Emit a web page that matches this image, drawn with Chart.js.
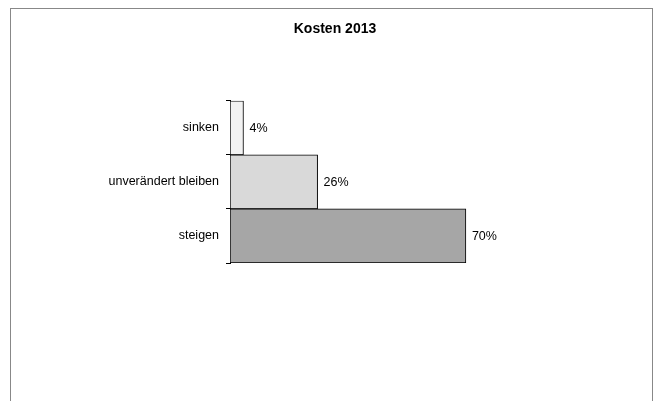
<!DOCTYPE html>
<html>
<head>
<meta charset="utf-8">
<script src="https://cdn.jsdelivr.net/npm/chart.js@4"></script>
<style>
    body { margin: 0; background: #fff; }
    #frame {
        position: absolute; left: 10px; top: 8px; width: 641px; height: 400px;
        border: 1px solid #888; border-bottom: none;
    }
    #wrap { position: absolute; left: 0; top: 0; width: 654px; height: 401px; }
</style>
</head>
<body>
<div id="frame"></div>
<div id="wrap"><canvas id="chart" width="654" height="401"></canvas></div>
<script>
const categories = ["sinken", "unverändert bleiben", "steigen"];
const values = [4, 26, 70];
const barColors = ["#f2f2f2", "#d9d9d9", "#a6a6a6"];

const FONT = "'Liberation Sans', Arial, sans-serif";

// draws the "xx%" next to each bar
const valueLabels = {
    id: "valueLabels",
    afterDatasetsDraw(chart) {
        const ctx = chart.ctx;
        const meta = chart.getDatasetMeta(0);
        ctx.save();
        ctx.font = "12.5px " + FONT;
        ctx.fillStyle = "#000";
        ctx.textAlign = "left";
        ctx.textBaseline = "middle";
        meta.data.forEach((bar, i) => {
            ctx.fillText(values[i] + "%", bar.x + 6, bar.y + 1);
        });
        ctx.restore();
    }
};

new Chart(document.getElementById("chart").getContext("2d"), {
    type: "bar",
    data: {
        labels: categories,
        datasets: [{
            data: values,
            backgroundColor: barColors,
            borderColor: "#000",
            borderWidth: 1,
            borderSkipped: false,
            barPercentage: 1,
            categoryPercentage: 1,
        }],
    },
    options: {
        indexAxis: "y",
        responsive: false,
        animation: false,
        layout: { padding: { left: 103, right: 87, top: 0, bottom: 138 } },
        scales: {
            x: {
                display: false,
                min: 0,
                max: 100,
            },
            y: {
                afterFit(scale) { scale.width = 127; },
                border: { display: true, color: "#000", width: 1 },
                grid: {
                    offset: true,
                    drawOnChartArea: false,
                    color: "#000",
                    tickLength: 4,
                },
                ticks: {
                    color: "#000",
                    padding: 7,
                    font: { family: FONT, size: 12.5 },
                },
            },
        },
        plugins: {
            legend: { display: false },
            tooltip: { enabled: false },
            title: {
                display: true,
                text: "Kosten 2013",
                color: "#000",
                font: { family: FONT, size: 14, weight: "bold" },
                padding: { top: 21, bottom: 63 },
            },
        },
    },
    plugins: [valueLabels],
});
</script>
</body>
</html>
